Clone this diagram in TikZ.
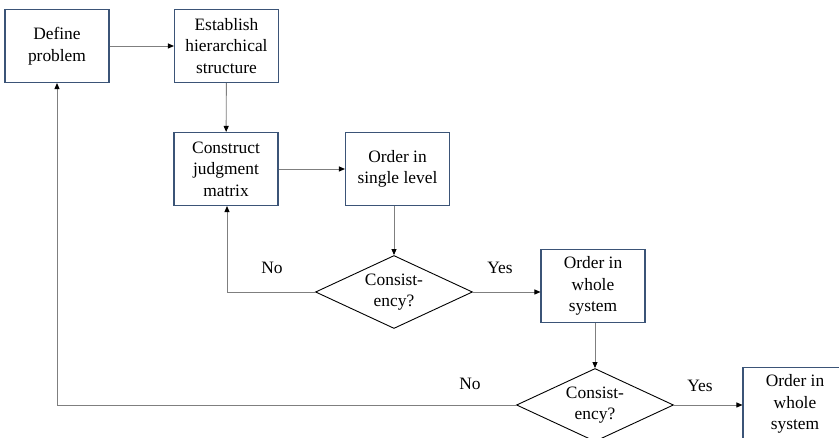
\documentclass[tikz,border=0pt]{standalone}
\usepackage{fontspec}
\setmainfont{Liberation Serif}
\usetikzlibrary{arrows.meta,shapes.geometric}
\definecolor{boxc}{HTML}{3B5477}
\definecolor{linec}{HTML}{7F7F7F}
\begin{document}
\begin{tikzpicture}[x=1pt,y=-1pt,
  every node/.style={font=\fontsize{17.4}{21.5}\selectfont},
  procbox/.style={draw=boxc,line width=1.1pt,fill=white,align=center,inner sep=0pt,minimum width=104pt,minimum height=73pt},
  decide/.style={draw=black,line width=0.9pt,shape=diamond,aspect=2.15,inner sep=0pt,align=center,minimum width=157pt,minimum height=73pt},
  conn/.style={draw=linec,line width=0.9pt,-{Triangle[length=6pt,width=5pt,color=black]}},
  lbl/.style={inner sep=0pt}]
\useasboundingbox (0,0) rectangle (839,438);
\clip (0,0) rectangle (839,438);
\fill[white] (0,0) rectangle (839,438);
\node[procbox] (def) at (57,46) {Define\\problem};
\node[procbox] (est) at (226.5,46) {Establish\\hierarchical\\structure};
\node[procbox] (con) at (226,169) {Construct\\judgment\\matrix};
\node[procbox] (sgl) at (397.5,169) {Order in\\single level};
\node[decide] (d1) at (394,292) {Consist-\\ency?};
\node[procbox] (w1) at (593,286) {Order in\\whole\\system};
\node[decide] (d2) at (595,405) {Consist-\\ency?};
\node[procbox] (w2) at (795,404) {Order in\\whole\\system};
\draw[conn] (def) -- (est);
\draw[conn] (est) -- (con);
\draw[conn] (con) -- (sgl);
\draw[conn] (sgl.south -| d1.north) -- (d1.north);
\draw[conn] (d1.east) -- (d1.east -| w1.west);
\draw[conn] (w1.south -| d2.north) -- (d2.north);
\draw[conn] (d2.east) -- (d2.east -| w2.west);
\coordinate (c1) at (227,292);
\coordinate (c2) at (57,405);
\draw[conn] (d1.west) -- (c1) -- (c1 |- con.south);
\draw[conn] (d2.west) -- (c2) -- (def.south);
\node[lbl] (no1) at (272,268) {No};
\node[lbl] (yes1) at (500,268) {Yes};
\node[lbl] (no2) at (470,384) {No};
\node[lbl] (yes2) at (700,386) {Yes};
\end{tikzpicture}
\end{document}
